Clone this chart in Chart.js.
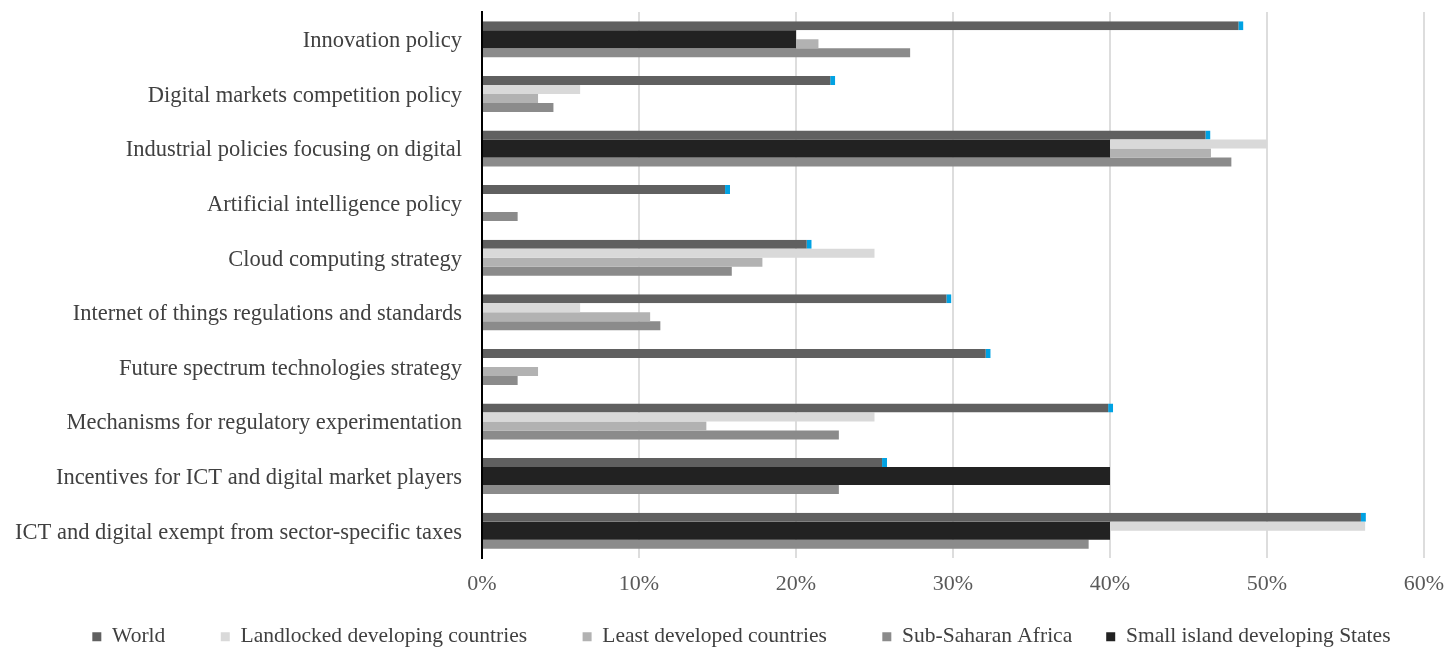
<!DOCTYPE html>
<html>
<head>
<meta charset="utf-8">
<script src="https://cdn.jsdelivr.net/npm/chart.js@4"></script>
<style>
  body { margin: 0; background: #fff; }
  #wrap { width: 1446px; height: 650px; position: relative; }
</style>
</head>
<body>
<div id="wrap"><canvas id="policyChart"></canvas></div>
<script>
// ---- policy adoption by country group (share of respondents, %) ----
const categories = [
  "Innovation policy",
  "Digital markets competition policy",
  "Industrial policies focusing on digital",
  "Artificial intelligence policy",
  "Cloud computing strategy",
  "Internet of things regulations and standards",
  "Future spectrum technologies strategy",
  "Mechanisms for regulatory experimentation",
  "Incentives for ICT and digital market players",
  "ICT and digital exempt from sector-specific taxes",
];

const world = [48.5, 22.5, 46.4, 15.8, 21.0, 29.9, 32.4, 40.2, 25.8, 56.3];
const landlocked = [0, 6.25, 50, 0, 25, 6.25, 0, 25, 0, 56.25];
const leastDeveloped = [21.43, 3.57, 46.43, 0, 17.86, 10.71, 3.57, 14.29, 0, 0];
const subSaharan = [27.27, 4.55, 47.73, 2.27, 15.91, 11.36, 2.27, 22.73, 22.73, 38.64];
const smallIsland = [20, 0, 40, 0, 0, 0, 0, 0, 40, 40];

const serif = "'Liberation Serif', 'Times New Roman', serif";
const groupPct = 0.66;

const ctx = document.getElementById("policyChart");

const policyChart = new Chart(ctx, {
  type: "bar",
  data: {
    labels: categories,
    datasets: [
      {
        label: "World",
        data: world,
        backgroundColor: "#606060",
        borderColor: "#00a2e3",
        borderWidth: { top: 0, right: 5, bottom: 0, left: 0 },
      },
      {
        label: "Landlocked developing countries",
        data: landlocked,
        backgroundColor: "#d9d9d9",
      },
      {
        label: "Least developed countries",
        data: leastDeveloped,
        backgroundColor: "#b2b2b2",
      },
      {
        label: "Sub-Saharan Africa",
        data: subSaharan,
        backgroundColor: "#8b8b8b",
      },
      {
        // wide bar centred on each category, drawn over the middle two
        label: "Small island developing States",
        data: smallIsland,
        backgroundColor: "#222222",
        grouped: false,
        order: -1,
        barPercentage: 0.5,
      },
    ],
  },
  options: {
    indexAxis: "y",
    responsive: true,
    maintainAspectRatio: false,
    animation: false,
    datasets: {
      bar: {
        barPercentage: 1,
        categoryPercentage: groupPct,
      },
    },
    layout: {
      padding: { top: 12, right: 0, bottom: 0, left: 0 },
    },
    scales: {
      x: {
        type: "linear",
        position: "bottom",
        min: 0,
        max: 60,
        afterFit: (scale) => {
          scale.height = 34;
          scale.paddingLeft = 0;
          scale.paddingRight = 22;
        },
        grid: {
          color: "#dddddd",
          lineWidth: 2,
          drawTicks: false,
        },
        border: { display: false },
        ticks: {
          stepSize: 10,
          padding: 13,
          color: "#595959",
          font: { family: serif, size: 22 },
          callback: (v) => v + "%",
        },
      },
      y: {
        type: "category",
        position: "left",
        afterFit: (scale) => {
          scale.width = 482;
          scale.paddingTop = 0;
          scale.paddingBottom = 0;
        },
        grid: { display: false, drawTicks: false },
        border: { display: true, color: "#000000", width: 2 },
        ticks: {
          padding: 20,
          labelOffset: 2,
          color: "#404040",
          font: { family: serif, size: 22.5 },
        },
      },
    },
    plugins: {
      legend: {
        position: "bottom",
        align: "end",
        maxHeight: 58,
        labels: {
          boxWidth: 9,
          boxHeight: 9,
          padding: 34,
          color: "#404040",
          font: { family: serif, size: 21.5 },
          sort: (a, b) => a.datasetIndex - b.datasetIndex,
          generateLabels: (chart) => {
            const items = Chart.defaults.plugins.legend.labels.generateLabels(chart);
            // plain filled squares, a little extra room after each entry
            items.forEach((item, i) => {
              item.lineWidth = 0;
              item.strokeStyle = item.fillStyle;
              if (i < items.length - 1) item.text += "    ";
            });
            return items;
          },
        },
      },
      tooltip: { enabled: false },
    },
  },
});
</script>
</body>
</html>
